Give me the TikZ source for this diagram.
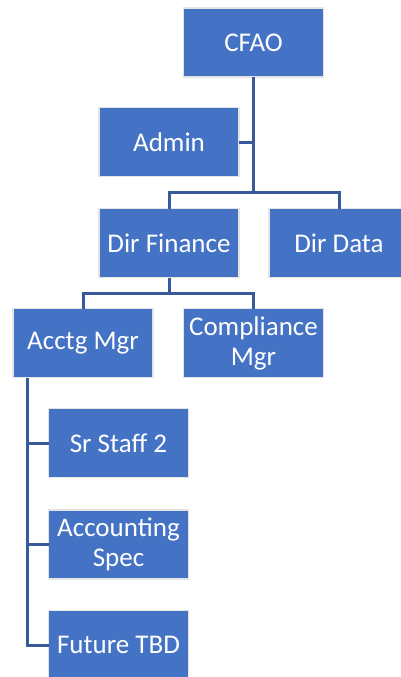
\documentclass[tikz,border=0pt]{standalone}
\usepackage{fontspec}
\setmainfont{Carlito}
\usepackage{tikz}
\usetikzlibrary{calc,positioning}
\definecolor{boxc}{HTML}{4472C4}
\definecolor{linec}{HTML}{375A9A}
\definecolor{rimc}{HTML}{E4E4E4}
\tikzset{
  unit/.style={draw=rimc,line width=1.2pt,fill=boxc,text=white,align=center,
    minimum width=140pt,minimum height=69pt,inner sep=0pt,outer sep=0pt,
    font=\fontsize{27}{30}\selectfont},
  conn/.style={linec,line width=3pt}
}

\begin{document}
\begin{tikzpicture}[x=1pt,y=-1pt]
\useasboundingbox (0,0) rectangle (401,677);
\clip (0,0) rectangle (401,677);
% top levels
\node[unit] (cfao) at (253.5,42.5) {CFAO};
\node[unit] (admin) at (169,142) {Admin};
\node[unit] (dirfin) at (169,243) {Dir Finance};
\node[unit] (dirdata) at (339,243) {Dir Data};
% finance managers
\node[unit] (acctg) at (83,343) {Acctg Mgr};
\node[unit] (compl) at (253.5,343) {Compliance\\Mgr};
% accounting staff
\node[unit] (srstaff) at (118.5,443) {Sr Staff 2};
\node[unit] (accspec) at (118.5,544.5) {Accounting\\Spec};
\node[unit] (future) at (118.5,645) {Future TBD};
% connectors
\coordinate (b1) at (253.5,192);
\coordinate (b2) at (169,293);
\coordinate (spine) at (27,378);
\draw[conn] (cfao.south) -- (b1);
\draw[conn] (admin.east) -- (admin.east -| cfao.south);
\draw[conn] (dirfin.north) |- (b1) -| (dirdata.north);
\draw[conn] (dirfin.south) -- (b2);
\draw[conn] (acctg.north) |- (b2) -| (compl.north);
\foreach \n in {srstaff,accspec,future}
  \draw[conn] (spine) |- (\n.west);
\end{tikzpicture}
\end{document}
